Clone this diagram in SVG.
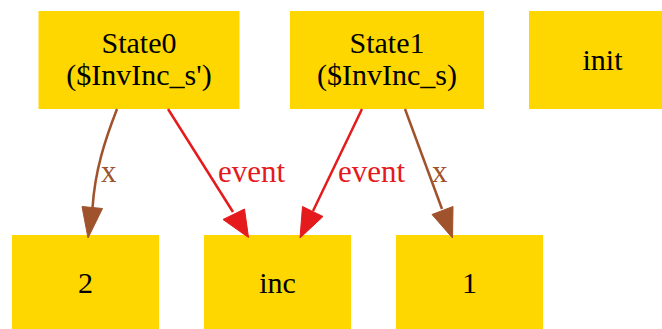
<svg xmlns="http://www.w3.org/2000/svg" width="662" height="329" viewBox="0 0 662 329">
  <style>
    .box { fill: #ffd700; stroke: none; }
    text { font-family: "Liberation Serif", "Times New Roman", serif; }
    .lbl { font-size: 30px; fill: #000000; text-anchor: middle; }
    .edge path { fill: none; stroke-width: 2.5; }
    .etxt { font-size: 31px; }
    .red path { stroke: #e41a1c; }
    .red polygon { fill: #e41a1c; stroke: #e41a1c; stroke-width: 1; }
    .red text { fill: #e41a1c; }
    .brown path { stroke: #a0522d; }
    .brown polygon { fill: #a0522d; stroke: #a0522d; stroke-width: 1; }
    .brown text { fill: #a0522d; }
  </style>
  <rect width="662" height="329" fill="#ffffff"/>

  <!-- nodes -->
  <g id="nodes">
    <g id="State0">
      <rect class="box" x="38.5" y="11" width="201" height="98"/>
      <text class="lbl" x="139" y="53">State0</text>
      <text class="lbl" x="139" y="85">($InvInc_s')</text>
    </g>
    <g id="State1">
      <rect class="box" x="290" y="11" width="194" height="98"/>
      <text class="lbl" x="387" y="53">State1</text>
      <text class="lbl" x="387" y="85">($InvInc_s)</text>
    </g>
    <g id="init">
      <rect class="box" x="529" y="11" width="147" height="98"/>
      <text class="lbl" x="602.5" y="70">init</text>
    </g>
    <g id="n2">
      <rect class="box" x="12" y="235" width="147" height="98"/>
      <text class="lbl" x="85.5" y="293">2</text>
    </g>
    <g id="inc">
      <rect class="box" x="204" y="235" width="147" height="98"/>
      <text class="lbl" x="277.5" y="293">inc</text>
    </g>
    <g id="n1">
      <rect class="box" x="396" y="235" width="147" height="98"/>
      <text class="lbl" x="469.5" y="293">1</text>
    </g>
  </g>

  <!-- connectors -->
  <g id="edges">
    <g id="State0_to_2" class="edge brown">
      <path d="M117,109 C105,140 95,170 92.5,208"/>
      <polygon points="88,238 102.5,208.5 82,206.5"/>
      <text class="etxt" x="101" y="182">x</text>
    </g>
    <g id="State0_to_inc" class="edge red">
      <path d="M168,109 L233,212"/>
      <polygon points="248.5,237.5 244.5,209 223,219.5"/>
      <text class="etxt" x="218" y="182">event</text>
    </g>
    <g id="State1_to_inc" class="edge red">
      <path d="M362,109 L313,211"/>
      <polygon points="300,238 323,216.5 302.5,206.5"/>
      <text class="etxt" x="338" y="182">event</text>
    </g>
    <g id="State1_to_1" class="edge brown">
      <path d="M405,109 L442,209"/>
      <polygon points="452.5,238 453,206.5 432,214.5"/>
      <text class="etxt" x="432" y="182">x</text>
    </g>
  </g>
</svg>
